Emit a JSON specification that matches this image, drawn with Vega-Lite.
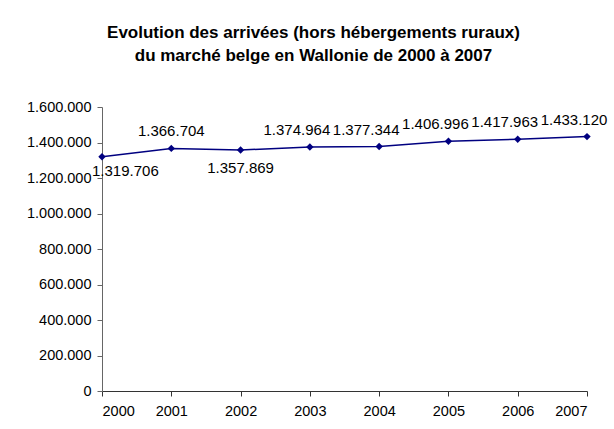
{
  "$schema": "https://vega.github.io/schema/vega-lite/v6.json",
  "autosize": "none",
  "width": 485,
  "height": 284,
  "padding": {"left": 102, "top": 107, "right": 27, "bottom": 38},
  "background": "white",
  "config": {
    "locale": {"number": {"decimal": ",", "thousands": ".", "grouping": [3], "currency": ["", " €"]}},
    "view": {"stroke": null},
    "font": "Liberation Sans"
  },
  "title": {
    "text": ["Evolution des arrivées (hors hébergements ruraux)", "du marché belge en Wallonie de 2000 à 2007"],
    "font": "Liberation Sans",
    "fontSize": 17,
    "fontWeight": "bold",
    "lineHeight": 23,
    "color": "black",
    "anchor": "middle",
    "dx": -31,
    "offset": 34
  },
  "data": {
    "values": [
      {"year": 2000, "arrivees": 1319706},
      {"year": 2001, "arrivees": 1366704},
      {"year": 2002, "arrivees": 1357869},
      {"year": 2003, "arrivees": 1374964},
      {"year": 2004, "arrivees": 1377344},
      {"year": 2005, "arrivees": 1406996},
      {"year": 2006, "arrivees": 1417963},
      {"year": 2007, "arrivees": 1433120}
    ]
  },
  "encoding": {
    "x": {
      "field": "year", "type": "quantitative",
      "scale": {"domain": [2000, 2007], "nice": false, "zero": false},
      "axis": {"title": null, "format": "d", "values": [2000, 2001, 2002, 2003, 2004, 2005, 2006, 2007],
        "grid": false, "labelFont": "Liberation Sans", "labelFontSize": 14.5, "labelColor": "black",
        "domainColor": "#333", "tickColor": "#333", "tickSize": 5, "labelPadding": 8}
    },
    "y": {
      "field": "arrivees", "type": "quantitative",
      "scale": {"domain": [0, 1600000], "nice": false},
      "axis": {"title": null, "format": ",d", "values": [0, 200000, 400000, 600000, 800000, 1000000, 1200000, 1400000, 1600000],
        "grid": false, "labelFont": "Liberation Sans", "labelFontSize": 14.5, "labelColor": "black",
        "domainColor": "#666", "tickColor": "#666", "tickSize": 5, "labelPadding": 6}
    }
  },
  "layer": [
    {"mark": {"type": "line", "color": "#000080", "strokeWidth": 1.5}},
    {"mark": {"type": "point", "shape": "diamond", "filled": true, "color": "#000080", "size": 55, "opacity": 1}},
    {
      "transform": [{"filter": "datum.year == 2001"}],
      "mark": {"type": "text", "baseline": "bottom", "dy": -9, "fontSize": 15, "font": "Liberation Sans", "color": "black"},
      "encoding": {"text": {"field": "arrivees", "type": "quantitative", "format": ",d"}}
    },
    {
      "transform": [{"filter": "datum.year >= 2003"}],
      "mark": {"type": "text", "baseline": "bottom", "dy": -9, "dx": -13, "fontSize": 15, "font": "Liberation Sans", "color": "black"},
      "encoding": {"text": {"field": "arrivees", "type": "quantitative", "format": ",d"}}
    },
    {
      "transform": [{"filter": "datum.year == 2002"}],
      "mark": {"type": "text", "baseline": "top", "dy": 11, "fontSize": 15, "font": "Liberation Sans", "color": "black"},
      "encoding": {"text": {"field": "arrivees", "type": "quantitative", "format": ",d"}}
    },
    {
      "transform": [{"filter": "datum.year == 2000"}],
      "mark": {"type": "text", "baseline": "top", "align": "left", "dx": -10, "dy": 7, "fontSize": 15, "font": "Liberation Sans", "color": "black"},
      "encoding": {"text": {"field": "arrivees", "type": "quantitative", "format": ",d"}}
    }
  ]
}
